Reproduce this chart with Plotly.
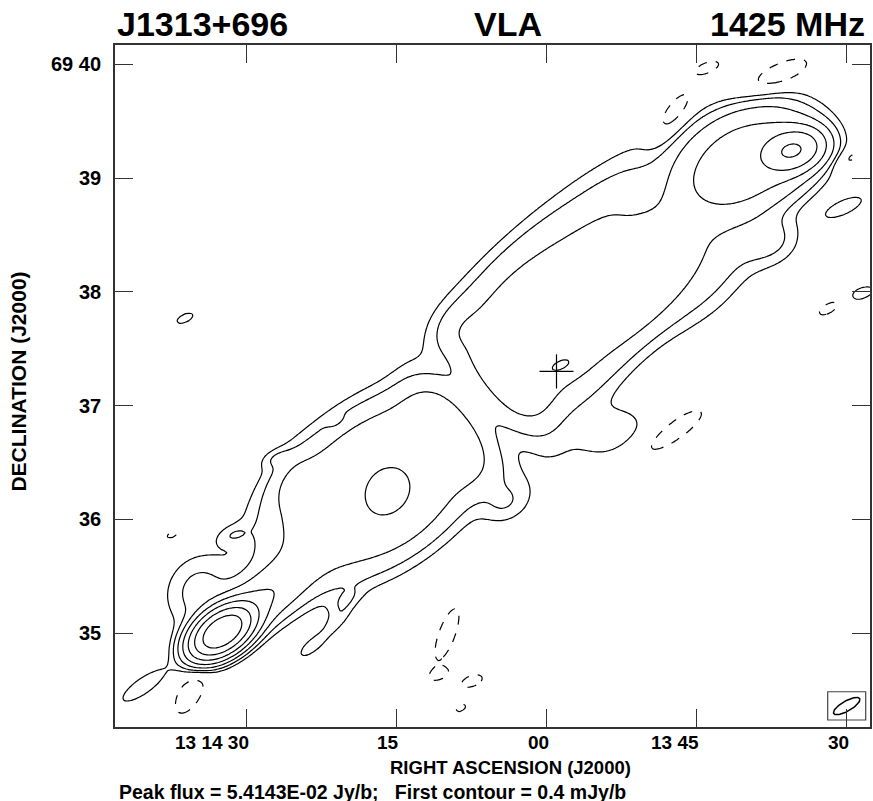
import numpy as np
import plotly.graph_objects as go

# Model components of the 1425 MHz VLA map of J1313+696.
# RA offset in seconds of time from 13 14 00, Dec in arcmin above 69 deg,
# peak in mJy/beam, FWHM along / across in arcsec, position angle on the plot (deg),
# profile exponent (1 = Gaussian, >1 = flatter-topped lobe).
comp_ra    = [32.45, 28.85, 34.85, 16.85, 15.85, -0.95, 6.35, 6.85, -12.15, -20.35, -24.65, -1.45,
              20.15, 25.65, 4.15, -22.35, -6.35, -0.05, 9.15,
              40.35, 36.15, 15.25, 31.45, 27.05, 20.85, 23.45, -29.75, -31.55,
              -16.15, -23.15, -12.65, -30.25, -28.25, -12.55, 35.65, 9.95, 10.65, 7.45, 8.55, 37.45, 21.05]
comp_dec   = [35.009, 35.264, 35.378, 36.309, 36.239, 37.663, 36.916, 37.004, 38.366, 39.174, 39.244, 37.355,
              35.290, 36.344, 36.125, 38.453, 36.766, 38.453, 37.619,
              34.534, 37.768, 37.847, 35.861, 36.538, 35.123, 34.886, 38.743, 37.988,
              39.974, 39.903, 39.543, 39.174, 37.856, 36.766, 34.473, 34.991, 34.640, 34.578, 34.341, 35.861, 36.863]
comp_peak  = [48.0, 3.0, 1.0, 2.3, 1.3, 2.0, 0.9, -2.2, 1.7, 4.0, 11.0, 1.5,
              0.5, 0.6, 0.6, 0.9, 0.6, 0.8, 0.5,
              0.75, 0.5, 0.42, 0.55, 0.5, 0.6, 0.6, 0.65, 0.6,
              -0.6, -0.7, -0.7, -0.6, -0.6, -0.7, -0.7, -0.7, -0.55, -0.6, -0.5, -0.5, -0.45]
comp_along = [23.2, 47.4, 31.6, 132.0, 36.9, 121.2, 60.0, 26.0, 89.6, 68.5, 23.2, 17.9,
              15.8, 26.4, 21.1, 26.0, 40.0, 147.6, 30.0,
              26.4, 15.8, 7.4, 14.8, 13.7, 18.4, 18.4, 23.7, 15.8,
              14.8, 36.9, 31.6, 15.8, 14.8, 42.2, 26.4, 31.6, 11.6, 14.8, 9.5, 10.5, 7.4]
comp_across = [13.7, 21.1, 26.4, 74.0, 31.6, 70.0, 91.0, 56.0, 64.0, 47.4, 14.8, 8.4,
               7.4, 15.8, 15.8, 21.0, 25.0, 31.6, 22.0,
               8.4, 7.4, 4.2, 8.4, 7.4, 7.4, 7.4, 8.4, 7.4,
               6.3, 12.6, 11.6, 7.4, 6.3, 11.6, 12.6, 9.5, 6.3, 7.4, 5.3, 5.3, 4.2]
comp_pa    = [35, 35, 60, 36, 60, 42, 40, 40, 40, 20, 15, 25,
              35, 60, 30, 20, 20, 40, 60,
              35, 25, 40, 20, 20, 50, 40, 25, 20,
              20, 25, 55, 35, 30, 35, 60, 70, 20, 20, 30, 20, 30]
comp_shape = [1, 1, 1, 2.0, 1, 2.0, 2.0, 1, 1.6, 1.6, 1, 1,
              1, 1, 1, 1, 1, 2.0, 1,
              1, 1, 1, 1, 1, 1, 1, 1, 1,
              1, 1, 1, 1, 1, 1, 1, 1, 1, 1, 1, 1, 1]

# contour levels: first contour 0.4 mJy/beam, factor 2 steps
first_contour = 0.4
n_levels = 7

# optical host position (cross) and restoring beam
host_ra, host_dec = -1.0, 37.30
cross_ra_half, cross_dec_half = 1.7, 0.15
beam_ra, beam_dec = -30.02, 34.358
beam_major, beam_minor, beam_pa = 15.8, 5.3, 30.0   # arcsec, arcsec, deg
beam_box_ra = [-28.12, -31.92]
beam_box_dec = [34.2355, 34.484]

ra_ticks = [30, 15, 0, -15, -30]
ra_ticktext = ["13 14 30", "15", "00", "13 45", "30"]
dec_ticks = [40, 39, 38, 37, 36, 35]
dec_ticktext = ["69 40", "39", "38", "37", "36", "35"]

ra_range = [43.15, -32.35]
dec_range = [34.174, 40.17]

# ---------------- model image ----------------
SEC2AS = 5.27
ra_grid = np.linspace(ra_range[1], ra_range[0], 330)
dec_grid = np.linspace(dec_range[0], dec_range[1], 310)
RA, DEC = np.meshgrid(ra_grid, dec_grid)
field = np.zeros_like(RA)
for r0, d0, a0, wa, wc, pa, sh in zip(comp_ra, comp_dec, comp_peak, comp_along,
                                       comp_across, comp_pa, comp_shape):
    dx = -(RA - r0) * SEC2AS
    dy = (DEC - d0) * 60.0
    t = np.radians(pa)
    u = dx * np.cos(t) + dy * np.sin(t)
    v = -dx * np.sin(t) + dy * np.cos(t)
    q = (2 * u / wa) ** 2 + (2 * v / wc) ** 2
    field += a0 * np.exp(-np.log(2) * q ** sh)

logz = np.log2(np.clip(field, 1e-4, None) / first_contour)
logz = np.clip(logz, -3, None).round(3)
negz = field.round(4)

fig = go.Figure()
fig.add_trace(go.Contour(
    x=ra_grid, y=dec_grid, z=logz,
    contours=dict(start=0, end=n_levels - 1, size=1, coloring="none"),
    line=dict(color="black", width=1.2, smoothing=1),
    showscale=False, hoverinfo="skip"))
fig.add_trace(go.Contour(
    x=ra_grid, y=dec_grid, z=negz,
    contours=dict(start=-first_contour, end=-first_contour, size=1, coloring="none"),
    line=dict(color="black", width=1.2, dash="dash"),
    showscale=False, hoverinfo="skip"))

# cross at host
fig.add_trace(go.Scatter(
    x=[host_ra + cross_ra_half, host_ra - cross_ra_half, None, host_ra, host_ra],
    y=[host_dec, host_dec, None, host_dec + cross_dec_half, host_dec - cross_dec_half],
    mode="lines", line=dict(color="black", width=1.2), hoverinfo="skip", showlegend=False))

# beam ellipse
tt = np.linspace(0, 2 * np.pi, 80)
bu = beam_major / 2 * np.cos(tt)
bv = beam_minor / 2 * np.sin(tt)
bt = np.radians(beam_pa)
bx = bu * np.cos(bt) - bv * np.sin(bt)
by = bu * np.sin(bt) + bv * np.cos(bt)
fig.add_trace(go.Scatter(
    x=beam_ra - bx / SEC2AS, y=beam_dec + by / 60.0,
    mode="lines", line=dict(color="black", width=1.5), hoverinfo="skip", showlegend=False))
fig.add_shape(type="rect", xref="x", yref="y",
              x0=beam_box_ra[0], x1=beam_box_ra[1], y0=beam_box_dec[0], y1=beam_box_dec[1],
              line=dict(color="#444", width=1.2))

FONT = "Liberation Sans, Arial, Helvetica, sans-serif"
ann = []
for v, txt in zip(ra_ticks, ra_ticktext):
    ann.append(dict(x=v, y=0, xref="x", yref="paper", text=txt, showarrow=False,
                    xanchor="right", yanchor="middle", xshift=4, yshift=-15,
                    font=dict(family=FONT, size=19, color="black", weight="bold")))
for v, txt in zip(dec_ticks, dec_ticktext):
    ann.append(dict(x=0, y=v, xref="paper", yref="y", text=txt, showarrow=False,
                    xanchor="right", yanchor="middle", xshift=-12,
                    font=dict(family=FONT, size=20, color="black", weight="bold")))
ann += [
    dict(x=0, y=1, xref="paper", yref="paper", text="J1313+696", showarrow=False,
         xanchor="left", yanchor="middle", yshift=21,
         font=dict(family=FONT, size=34, color="black", weight="bold")),
    dict(x=0.5205, y=1, xref="paper", yref="paper", text="VLA", showarrow=False,
         xanchor="center", yanchor="middle", yshift=21,
         font=dict(family=FONT, size=34, color="black", weight="bold")),
    dict(x=0.996, y=1, xref="paper", yref="paper", text="1425 MHz", showarrow=False,
         xanchor="right", yanchor="middle", yshift=21,
         font=dict(family=FONT, size=34, color="black", weight="bold")),
    dict(x=0.5235, y=0, xref="paper", yref="paper", text="RIGHT ASCENSION (J2000)", showarrow=False,
         xanchor="center", yanchor="middle", yshift=-40,
         font=dict(family=FONT, size=18.5, color="black", weight="bold")),
    dict(x=0.002, y=0, xref="paper", yref="paper",
         text="Peak flux = 5.4143E-02 Jy/b;   First contour = 0.4 mJy/b", showarrow=False,
         xanchor="left", yanchor="middle", yshift=-65,
         font=dict(family=FONT, size=19.5, color="black", weight="bold")),
    dict(x=-0.128, y=0.507, xref="paper", yref="paper", text="DECLINATION (J2000)", showarrow=False,
         xanchor="center", yanchor="middle", textangle=-90,
         font=dict(family=FONT, size=21, color="black", weight="bold")),
]

axis_common = dict(showgrid=False, zeroline=False, showline=True, linecolor="#333", linewidth=1.5,
                   mirror="ticks", ticks="inside", ticklen=18, tickwidth=1.2, tickcolor="#333",
                   showticklabels=False)
fig.update_layout(
    width=873, height=801, plot_bgcolor="white", paper_bgcolor="white",
    margin=dict(l=115, r=1, t=45, b=74),
    xaxis=dict(range=ra_range, tickvals=ra_ticks, **axis_common),
    yaxis=dict(range=dec_range, tickvals=dec_ticks, **axis_common),
    annotations=ann, showlegend=False)

fig.write_html("out.html")
